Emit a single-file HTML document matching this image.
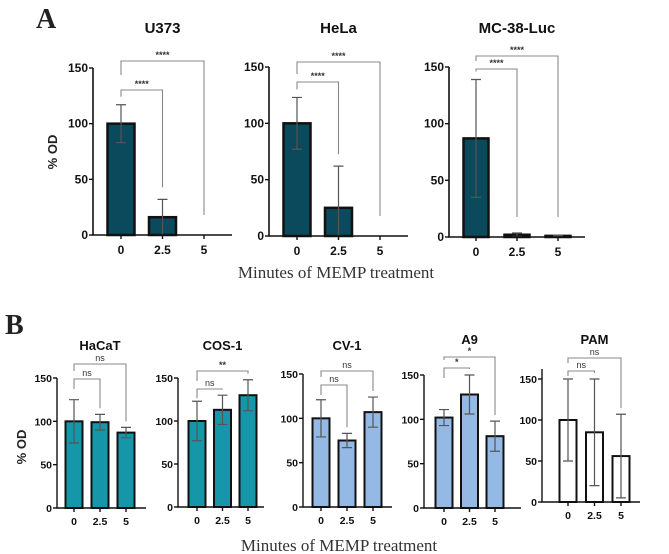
<!DOCTYPE html>
<html><head><meta charset="utf-8">
<style>
html,body{margin:0;padding:0;background:#fff;}
svg{display:block;}
text{font-family:"Liberation Sans",Arial,sans-serif;}
.serif{font-family:"Liberation Serif","Times New Roman",serif;}
</style></head>
<body>
<svg id="fig" width="669" height="554" viewBox="0 0 669 554" xmlns="http://www.w3.org/2000/svg">
<text class="serif" x="36" y="28" font-size="28" font-weight="bold" fill="#222">A</text>
<text class="serif" x="5" y="334" font-size="28" font-weight="bold" fill="#222">B</text>
<text x="53" y="152" font-size="13" font-weight="bold" fill="#222" text-anchor="middle" transform="rotate(-90 53 152)" dy="4">% OD</text>
<text x="22" y="447" font-size="13" font-weight="bold" fill="#222" text-anchor="middle" transform="rotate(-90 22 447)" dy="4">% OD</text>
<text class="serif" x="336" y="278" font-size="17" fill="#333" text-anchor="middle">Minutes of MEMP treatment</text>
<text class="serif" x="339" y="551" font-size="17" fill="#333" text-anchor="middle">Minutes of MEMP treatment</text>
</svg>
<script>
// ---- data ----
const categories = ["0","2.5","5"];
const yTicks = [0,50,100,150];
const titles = ["U373","HeLa","MC-38-Luc","HaCaT","COS-1","CV-1","A9","PAM"];
const u373Values = [100,16,0];     const u373Errors = [17,16,0];
const helaValues = [100,25,0];     const helaErrors = [23,37,0];
const mc38Values = [87,2,1];       const mc38Errors = [52,1.5,0.5];
const hacatValues = [100,99,87];   const hacatErrors = [25,9,6];
const cos1Values = [100,113,130];  const cos1Errors = [23,17,18];
const cv1Values = [100,75,107];    const cv1Errors = [21,8,17];
const a9Values = [102,128,81];     const a9Errors = [9,22,17];
const pamValues = [100,85,56];     const pamErrors = [50,65,51];
const sigInner = ["****","****","****","ns","ns","ns","*","ns"];
const sigOuter = ["****","****","****","ns","**","ns","*","ns"];

// ---- layout ----
const panels = [
 {v:u373Values,e:u373Errors,ax:93,y150:68,y0:235,c0:121,dc:41.5,end:232,bw:27,fill:"#0b4a5c",sw:2.5,big:true,b1:90,b2:61,ty:33},
 {v:helaValues,e:helaErrors,ax:269,y150:67,y0:236,c0:297,dc:41.5,end:408,bw:27,fill:"#0b4a5c",sw:2.5,big:true,b1:82,b2:62,ty:33},
 {v:mc38Values,e:mc38Errors,ax:449,y150:67,y0:237,c0:476,dc:41,end:585,bw:25,fill:"#0b4a5c",sw:2.5,big:true,b1:69,b2:56,ty:33},
 {v:hacatValues,e:hacatErrors,ax:57,y150:378,y0:508,c0:74,dc:26,end:146,bw:17,fill:"#1596a9",sw:2,big:false,b1:379,b2:364,ty:350},
 {v:cos1Values,e:cos1Errors,ax:178,y150:378,y0:507,c0:197,dc:25.5,end:264,bw:17,fill:"#1596a9",sw:2,big:false,b1:389,b2:371,ty:350},
 {v:cv1Values,e:cv1Errors,ax:303,y150:374,y0:507,c0:321,dc:26,end:392,bw:17,fill:"#93b9e4",sw:2,big:false,b1:385,b2:371,ty:350},
 {v:a9Values,e:a9Errors,ax:424,y150:375,y0:508,c0:444,dc:25.5,end:521,bw:17,fill:"#93b9e4",sw:2,big:false,b1:368,b2:357,ty:344},
 {v:pamValues,e:pamErrors,ax:542,y150:379,y0:502,c0:568,dc:26.5,end:640,bw:17,fill:"#ffffff",sw:2,big:false,b1:371,b2:358,ty:344,axTop:369}
];
const svg = document.getElementById('fig');
const NS = "http://www.w3.org/2000/svg";
function mk(tag, attrs, parent){const el=document.createElementNS(NS,tag);for(const k in attrs)el.setAttribute(k,attrs[k]);(parent||svg).appendChild(el);return el;}

panels.forEach((p,pi)=>{
  const g = mk('g',{});
  
  
  const y = v => p.y0 - (v/150)*(p.y0-p.y150);
  const x = i => p.c0 + i*p.dc;
  const fs = p.big?12:10.5;
  const t = mk('text',{x:x(1),y:p.ty,'font-size':p.big?15:13,'font-weight':'bold','text-anchor':'middle',fill:'#111'},g);
  t.textContent = titles[pi];
  
  
  p.v.forEach((val,i)=>{
    const r = mk('rect',{x:x(i)-p.bw/2,y:y(val),width:p.bw,height:Math.max(0,p.y0-y(val)),fill:p.fill,stroke:'#111','stroke-width':p.sw},g);
    
    
    const e = p.e[i];
    if(e>0){
      const eb = mk('path',{d:`M${x(i)},${y(val+e)}V${y(Math.max(0,val-e))}M${x(i)-5},${y(val+e)}H${x(i)+5}M${x(i)-5},${y(Math.max(0,val-e))}H${x(i)+5}`,stroke:'#555','stroke-width':1.2,fill:'none'},g);
      
      
    }
  });
  const top = p.axTop || p.y150;
  const axis = mk('path',{d:`M${p.ax},${top}V${p.y0}H${p.end}`,stroke:'#111','stroke-width':p.big?1.6:1.4,fill:'none'},g);
  
  
  yTicks.forEach(tv=>{
    mk('line',{x1:p.ax-4,x2:p.ax,y1:y(tv),y2:y(tv),stroke:'#111','stroke-width':1.4},g);
    const tl = mk('text',{x:p.ax-5,y:y(tv)+4,'font-size':fs,'font-weight':'bold','text-anchor':'end',fill:'#111'},g);
    tl.textContent = tv;
    
    
  });
  categories.forEach((c,i)=>{
    mk('line',{x1:x(i),x2:x(i),y1:p.y0,y2:p.y0+4,stroke:'#111','stroke-width':1.4},g);
    const xl = mk('text',{x:x(i),y:p.y0+(p.big?19:17),'font-size':fs,'font-weight':'bold','text-anchor':'middle',fill:'#111'},g);
    xl.textContent = c;
    
    
  });
  const topOf = i => y(p.v[i]+p.e[i]);
  const gap = p.big?12:6;
  const br = (yb, j, label, leftEnd)=>{
    const yr = Math.min(topOf(j)-gap, p.y0-20);
    const b = mk('path',{d:`M${x(0)},${leftEnd}V${yb}H${x(j)}V${yr}`,stroke:'#888','stroke-width':1.1,fill:'none'},g);
    
    
    const s = mk('text',{x:(x(0)+x(j))/2,y:yb-3,'font-size':9,'text-anchor':'middle',fill:'#333','font-weight':label.startsWith('*')?'bold':'normal'},g);
    s.textContent = label;
    
    
  };
  br(p.b1, 1, sigInner[pi], Math.min(topOf(0)-(p.big?8:3), p.b1+10));
  br(p.b2, 2, sigOuter[pi], Math.min(p.b1-8, p.b2+14));
});
</script>
</body></html>
